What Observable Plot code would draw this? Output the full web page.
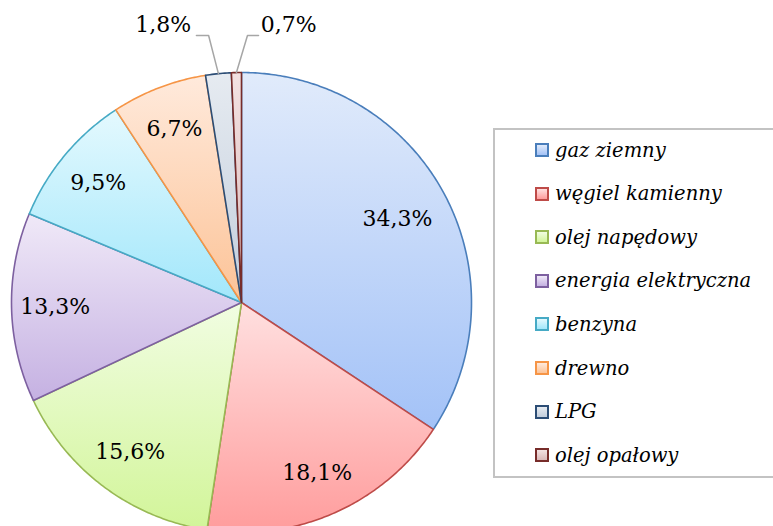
<!DOCTYPE html>
<html>
<head>
<meta charset="utf-8">
<script src="https://cdn.jsdelivr.net/npm/d3@7"></script>
<script src="https://cdn.jsdelivr.net/npm/@observablehq/plot@0.6"></script>
<style>
  html, body { margin: 0; padding: 0; background: #fff; overflow: hidden; }
  #wrap { position: relative; width: 773px; height: 526px; overflow: hidden; }
  #legend { position: absolute; left: 493px; top: 128px; width: 320px; height: 346px;
            border: 2px solid #c3c3c3; background: #fff; box-sizing: content-box; }
  .item { position: absolute; left: 40px; height: 20px; display: flex; align-items: center;
          font-family: "DejaVu Serif", serif; font-style: italic; font-size: 19.5px; color: #000; white-space: nowrap; }
  .sw { width: 10px; height: 10px; border: 2px solid; margin-right: 6px; flex: none; }
</style>
</head>
<body>
<div id="wrap"><div id="chart"></div><div id="legend"></div></div>
<script>
// ---- data ----
const names = ["gaz ziemny", "węgiel kamienny", "olej napędowy", "energia elektryczna", "benzyna", "drewno", "LPG", "olej opałowy"];
const values = [34.3, 18.1, 15.6, 13.3, 9.5, 6.7, 1.8, 0.7];
const labels = ["34,3%", "18,1%", "15,6%", "13,3%", "9,5%", "6,7%", "1,8%", "0,7%"];
const strokes = ["#4a7ebb", "#be4b48", "#98b954", "#7d60a0", "#46aac5", "#f69546", "#2c4d75", "#772c2a"];
const gradTop = ["#e1ebfb", "#ffe0e0", "#f1fde2", "#f0e9f8", "#e4f9fe", "#ffeadc", "#e6ebf1", "#f3e2e2"];
const gradBottom = ["#a3c2f7", "#ff9c9c", "#d2f599", "#c5b1e2", "#a2e7fb", "#fcc397", "#c3cedc", "#dab9b9"];

// ---- layout ----
const W = 773, H = 526, cx = 241, cy = 302, R = 230;
const labelK = 0.81;
const outside = { // label placement for thin slices (unit coords)
  6: { tx: -0.34, ty: 1.205, lx0: -0.196, lx1: -0.143, ly: 1.161 },
  7: { tx: 0.205, ty: 1.205, lx0: 0.074, lx1: 0.026, ly: 1.161 }
};

const arcs = d3.pie().sort(null).value(d => d)(values);
const marks = [];
arcs.forEach((a, i) => {
  const pts = [{ x: 0, y: 0 }];
  const n = Math.max(2, Math.ceil((a.endAngle - a.startAngle) / 0.01));
  for (let k = 0; k <= n; k++) {
    const t = a.startAngle + (a.endAngle - a.startAngle) * k / n;
    pts.push({ x: Math.sin(t), y: Math.cos(t) });
  }
  marks.push(Plot.line(pts, {
    x: "x", y: "y", curve: "linear-closed",
    fill: `url(#grad${i})`, stroke: strokes[i], strokeWidth: 1.6, strokeLinejoin: "round"
  }));
});

const inner = [], outer = [], leaders = [];
arcs.forEach((a, i) => {
  const m = (a.startAngle + a.endAngle) / 2;
  if (outside[i]) {
    const o = outside[i];
    outer.push({ x: o.tx, y: o.ty, t: labels[i] });
    leaders.push({ id: i, x: o.lx0, y: o.ly }, { id: i, x: o.lx1, y: o.ly }, { id: i, x: Math.sin(m), y: Math.cos(m) });
  } else {
    const k = i === 0 ? 0.77 : labelK;
    inner.push({ x: k * Math.sin(m), y: k * Math.cos(m), t: labels[i] });
  }
});
marks.push(Plot.line(leaders, { x: "x", y: "y", z: "id", stroke: "#a6a6a6", strokeWidth: 1.5 }));
const textOpts = { x: "x", y: "y", text: "t", fill: "#000", fontFamily: "DejaVu Serif", fontSize: 22 };
marks.push(Plot.text(inner, textOpts));
marks.push(Plot.text(outer, textOpts));

const svg = Plot.plot({
  width: W, height: H, margin: 0,
  x: { domain: [-1, 1], range: [cx - R, cx + R], axis: null },
  y: { domain: [-1, 1], range: [cy + R, cy - R], axis: null },
  marks
});
const defs = d3.select(svg).insert("defs", ":first-child");
values.forEach((v, i) => {
  const g = defs.append("linearGradient").attr("id", `grad${i}`)
    .attr("x1", 0).attr("y1", 0).attr("x2", 0).attr("y2", 1);
  g.append("stop").attr("offset", "0%").attr("stop-color", gradTop[i]);
  g.append("stop").attr("offset", "100%").attr("stop-color", gradBottom[i]);
});
document.getElementById("chart").appendChild(svg);

// ---- legend ----
const legend = document.getElementById("legend");
names.forEach((nm, i) => {
  const it = document.createElement("div");
  it.className = "item";
  it.style.top = (20 - 10 + i * 43.6) + "px";
  const sw = document.createElement("span");
  sw.className = "sw";
  sw.style.borderColor = strokes[i];
  sw.style.background = `linear-gradient(${gradTop[i]}, ${gradBottom[i]})`;
  it.appendChild(sw);
  it.appendChild(document.createTextNode(nm));
  legend.appendChild(it);
});
</script>
</body>
</html>
